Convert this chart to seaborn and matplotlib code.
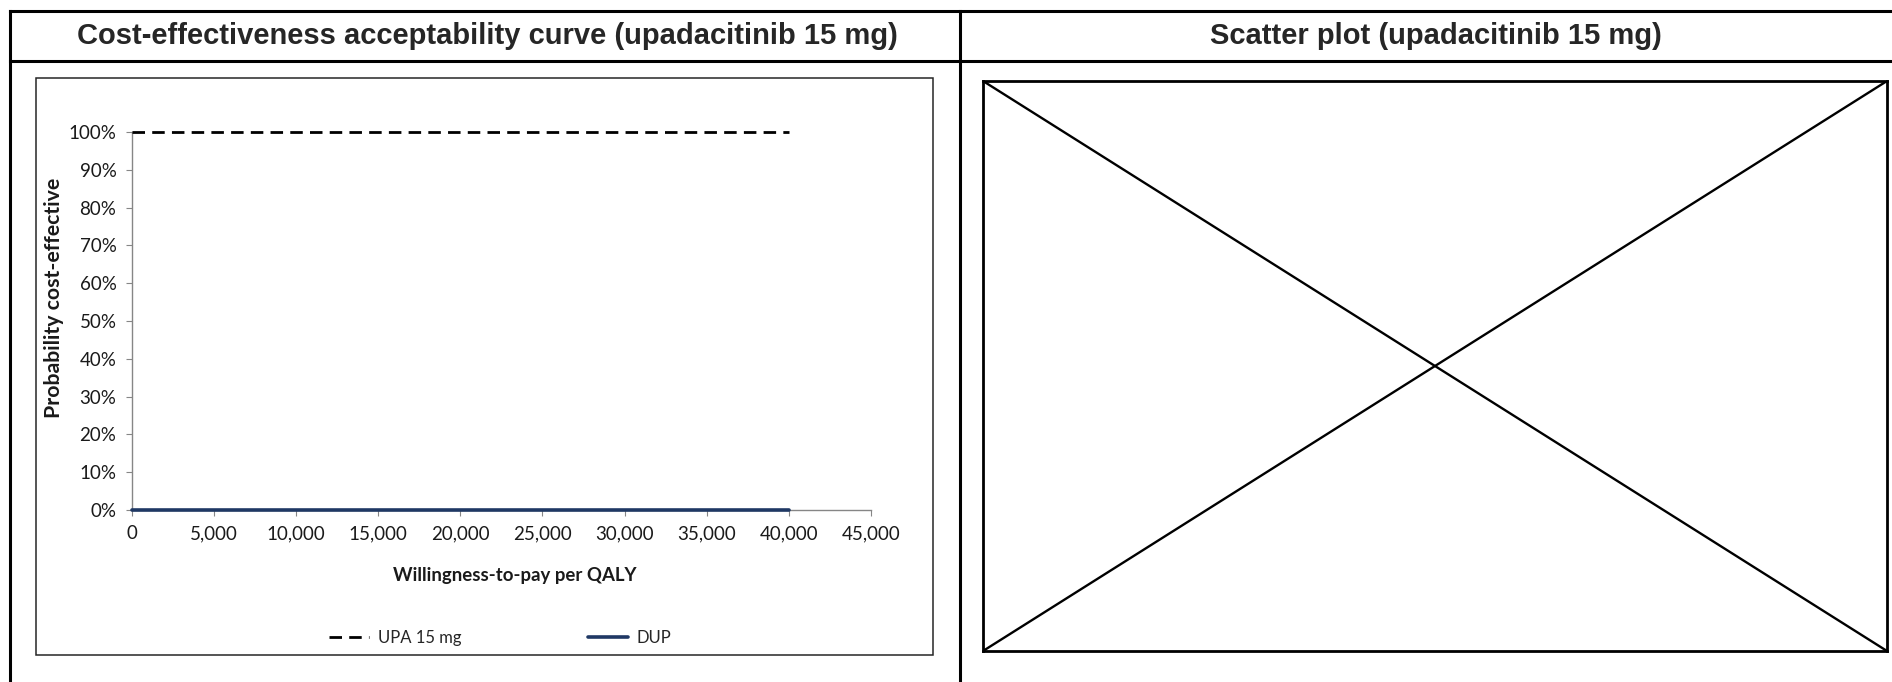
import numpy as np
import pandas as pd
import matplotlib
matplotlib.use("Agg")
import matplotlib.pyplot as plt
import seaborn as sns
from matplotlib.lines import Line2D
from matplotlib.patches import Rectangle
from matplotlib.ticker import PercentFormatter, FuncFormatter

# datos de la curva CEAC
wtp = [0, 5000, 10000, 15000, 20000, 25000, 30000, 35000, 40000]
upa_15mg = [1.0, 1.0, 1.0, 1.0, 1.0, 1.0, 1.0, 1.0, 1.0]
dup = [0.0, 0.0, 0.0, 0.0, 0.0, 0.0, 0.0, 0.0, 0.0]
series_names = ["UPA 15 mg", "DUP"]
x_ticks = [0, 5000, 10000, 15000, 20000, 25000, 30000, 35000, 40000, 45000]
y_ticks = [0.0, 0.1, 0.2, 0.3, 0.4, 0.5, 0.6, 0.7, 0.8, 0.9, 1.0]
panel_titles = ["Cost-effectiveness acceptability curve (upadacitinib 15 mg)",
                "Scatter plot (upadacitinib 15 mg)"]
# marcador de imagen ausente (una X dentro de un recuadro)
cross_x = [0, 1]
cross_down = [1, 0]
cross_up = [0, 1]

sns.set_theme(style="white")
plt.rcParams["font.family"] = ["Lato", "DejaVu Sans"]

W, H = 1892, 682
fig = plt.figure(figsize=(W / 100, H / 100), dpi=100)


def fx(px):
    return px / W


def fy(py):
    return 1 - py / H


# lineas de la tabla
tbl = dict(color="black", lw=2.2, transform=fig.transFigure, solid_capstyle="projecting")
fig.add_artist(Line2D([fx(10), 1.02], [fy(11), fy(11)], **tbl))
fig.add_artist(Line2D([fx(10), 1.02], [fy(61), fy(61)], **tbl))
fig.add_artist(Line2D([fx(10), fx(10)], [fy(11), -0.02], **tbl))
fig.add_artist(Line2D([fx(960), fx(960)], [fy(11), -0.02], **tbl))

# titulos
for cx, t in zip([487, 1436], panel_titles):
    fig.text(fx(cx), fy(36), t, ha="center", va="center", fontsize=21,
             fontweight="bold", family=["Liberation Sans", "DejaVu Sans"])

# marco del grafico izquierdo
fig.add_artist(Rectangle((fx(36), fy(655)), fx(933) - fx(36), fy(78) - fy(655),
                         transform=fig.transFigure, fill=False, ec="#262626", lw=1.1))

# ---- CEAC ----
ax = fig.add_axes([fx(131.7), fy(510), fx(871) - fx(131.7), fy(132) - fy(510)])
df = pd.DataFrame({"WTP": wtp, series_names[0]: upa_15mg, series_names[1]: dup})
sns.lineplot(data=df, x="WTP", y=series_names[0], ax=ax, color="black", lw=2.0,
             linestyle=(0, (4.5, 2.6)), clip_on=False, legend=False, zorder=4)
sns.lineplot(data=df, x="WTP", y=series_names[1], ax=ax, color="#1f3864", lw=2.6,
             clip_on=False, legend=False, zorder=4)
ax.set_xlim(0, 45000)
ax.set_ylim(0, 1)
ax.set_xticks(x_ticks)
ax.set_yticks(y_ticks)
ax.yaxis.set_major_formatter(PercentFormatter(1.0, decimals=0))
ax.xaxis.set_major_formatter(FuncFormatter(lambda v, p: f"{int(v):,}"))
for s in ["top", "right"]:
    ax.spines[s].set_visible(False)
for s in ["left", "bottom"]:
    ax.spines[s].set_color("#868686")
    ax.spines[s].set_linewidth(1.0)
ax.tick_params(axis="both", which="major", length=4, width=0.8, color="#868686",
               labelsize=13.5, labelcolor="#1a1a1a", pad=7, bottom=True, left=True)
ax.set_xlabel("Willingness-to-pay per QALY", fontsize=13.4, fontweight="bold", color="#1a1a1a")
ax.set_ylabel("Probability cost-effective", fontsize=15.3, fontweight="bold", color="#1a1a1a")
ax.xaxis.set_label_coords((515 - 131.7) / (871 - 131.7), -(575 - 510) / (510 - 132))
ax.yaxis.set_label_coords(-(131.7 - 54) / (871 - 131.7), (510 - 298) / (510 - 132))
ax.xaxis.label.set_va("center")
ax.yaxis.label.set_va("center")
ax.set_facecolor("white")

handles = ax.get_lines()[:2]
fig.legend(handles, series_names, loc="center", bbox_to_anchor=(fx(500), fy(638)),
           bbox_transform=fig.transFigure, ncol=2, frameon=False, fontsize=12,
           handlelength=2.4, handletextpad=0.5, columnspacing=7.6)

# ---- scatter (imagen ausente) ----
ax2 = fig.add_axes([fx(983), fy(651), fx(1887) - fx(983), fy(81) - fy(651)])
sns.lineplot(x=cross_x, y=cross_down, ax=ax2, color="black", lw=1.7)
sns.lineplot(x=cross_x, y=cross_up, ax=ax2, color="black", lw=1.7)
ax2.set_xlim(0, 1)
ax2.set_ylim(0, 1)
ax2.set_xticks([])
ax2.set_yticks([])
for s in ax2.spines.values():
    s.set_visible(True)
    s.set_color("black")
    s.set_linewidth(2.0)

fig.savefig("out.png", dpi=100, facecolor="white")
